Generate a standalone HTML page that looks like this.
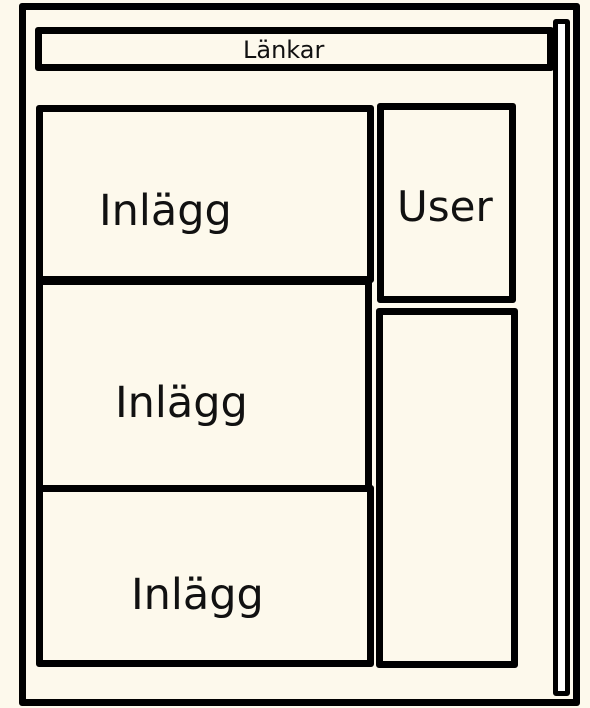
<!DOCTYPE html>
<html><head><meta charset="utf-8"><style>
html,body{margin:0;padding:0;}
body{width:590px;height:708px;background:#fdf9ec;position:relative;overflow:hidden;font-family:"DejaVu Sans","Liberation Sans",sans-serif;}
.b{position:absolute;box-sizing:border-box;border:7px solid #000;border-radius:3px;}
.t{position:absolute;color:#111;white-space:nowrap;}
</style></head><body>
<div class="b" style="left:19px;top:3px;width:561px;height:703px;"></div>
<div class="b" style="left:553px;top:19px;width:17px;height:677px;border-width:5px;background:#fff;"></div>
<div class="b" style="left:35px;top:27px;width:519px;height:44px;border-width:7px;"></div>
<div class="t" style="left:243px;top:36px;font-size:24px;">Länkar</div>
<div class="b" style="left:36px;top:105px;width:338px;height:178px;"></div>
<div class="b" style="left:36px;top:278px;width:336px;height:214px;"></div>
<div class="b" style="left:36px;top:485px;width:338px;height:182px;"></div>
<div class="t" style="left:99px;top:186px;font-size:43px;">Inlägg</div>
<div class="t" style="left:115px;top:378px;font-size:43px;">Inlägg</div>
<div class="t" style="left:131px;top:570px;font-size:43px;">Inlägg</div>
<div class="b" style="left:377px;top:103px;width:139px;height:200px;"></div>
<div class="t" style="left:397px;top:182px;font-size:42px;">User</div>
<div class="b" style="left:376px;top:308px;width:142px;height:360px;"></div>
</body></html>
